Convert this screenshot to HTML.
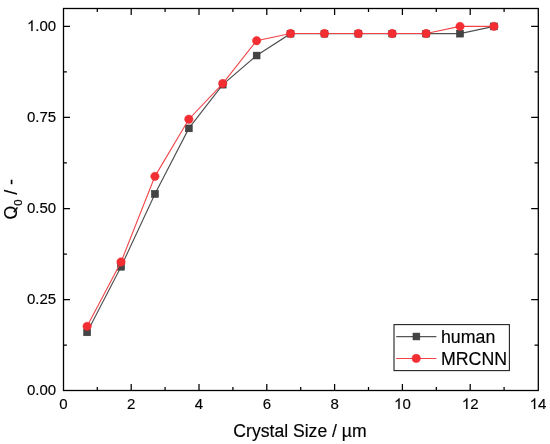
<!DOCTYPE html><html><head><meta charset="utf-8"><style>
html,body{margin:0;padding:0;background:#fff;width:550px;height:444px;overflow:hidden}
svg{display:block;will-change:transform}
text{font-family:"Liberation Sans",sans-serif;fill:#000;stroke:#000;stroke-width:0.15px}
</style></head><body>
<svg width="550" height="444" viewBox="0 0 550 444">
<rect width="550" height="444" fill="#fff"/>
<path d="M97.30 390.5V387.10M97.30 8.5V11.90M131.20 390.5V384.00M131.20 8.5V15.00M165.10 390.5V387.10M165.10 8.5V11.90M199.00 390.5V384.00M199.00 8.5V15.00M232.90 390.5V387.10M232.90 8.5V11.90M266.80 390.5V384.00M266.80 8.5V15.00M300.70 390.5V387.10M300.70 8.5V11.90M334.60 390.5V384.00M334.60 8.5V15.00M368.50 390.5V387.10M368.50 8.5V11.90M402.40 390.5V384.00M402.40 8.5V15.00M436.30 390.5V387.10M436.30 8.5V11.90M470.20 390.5V384.00M470.20 8.5V15.00M504.10 390.5V387.10M504.10 8.5V11.90M63.5 345.08H66.90M538.3 345.08H534.56M63.5 299.55H70.00M538.3 299.55H531.15M63.5 254.03H66.90M538.3 254.03H534.56M63.5 208.50H70.00M538.3 208.50H531.15M63.5 162.98H66.90M538.3 162.98H534.56M63.5 117.45H70.00M538.3 117.45H531.15M63.5 71.93H66.90M538.3 71.93H534.56M63.5 26.40H70.00M538.3 26.40H531.15" stroke="#000" stroke-width="1.25" fill="none"/>
<rect x="63.5" y="8.5" width="474.79999999999995" height="382.0" fill="none" stroke="#000" stroke-width="1.3"/>
<text x="59.23" y="409.00" font-size="15">0</text>
<text x="127.03" y="409.00" font-size="15">2</text>
<text x="194.83" y="409.00" font-size="15">4</text>
<text x="262.63" y="409.00" font-size="15">6</text>
<text x="330.43" y="409.00" font-size="15">8</text>
<path transform="translate(394.06 409.00) scale(0.00732 -0.00732)" d="M763 0L583 0L583 1147Q518 1085 415 1024Q312 963 223 930L223 1104Q371 1174 483 1273Q595 1372 646 1466L763 1466Z" fill="#000" stroke="#000" stroke-width="20.5"/><text x="402.40" y="409.00" font-size="15">0</text>
<path transform="translate(461.86 409.00) scale(0.00732 -0.00732)" d="M763 0L583 0L583 1147Q518 1085 415 1024Q312 963 223 930L223 1104Q371 1174 483 1273Q595 1372 646 1466L763 1466Z" fill="#000" stroke="#000" stroke-width="20.5"/><text x="470.20" y="409.00" font-size="15">2</text>
<path transform="translate(529.66 409.00) scale(0.00732 -0.00732)" d="M763 0L583 0L583 1147Q518 1085 415 1024Q312 963 223 930L223 1104Q371 1174 483 1273Q595 1372 646 1466L763 1466Z" fill="#000" stroke="#000" stroke-width="20.5"/><text x="538.00" y="409.00" font-size="15">4</text>
<text x="27.01" y="395.00" font-size="15">0.00</text>
<text x="27.01" y="304.00" font-size="15">0.25</text>
<text x="27.01" y="213.00" font-size="15">0.50</text>
<text x="27.01" y="122.00" font-size="15">0.75</text>
<path transform="translate(27.01 31.00) scale(0.00732 -0.00732)" d="M763 0L583 0L583 1147Q518 1085 415 1024Q312 963 223 930L223 1104Q371 1174 483 1273Q595 1372 646 1466L763 1466Z" fill="#000" stroke="#000" stroke-width="20.5"/><text x="35.35" y="31.00" font-size="15">.00</text>
<text x="300.0" y="436.8" font-size="17.6" text-anchor="middle">Crystal Size / µm</text>
<g transform="translate(17.2 199.3) rotate(-90)"><text x="-20.25" y="0" font-size="17.6">O<tspan font-size="11.3" dy="4.9">0</tspan><tspan dy="-4.9"> / -</tspan></text><path d="M-13.39 -2.85L-12.51 -4.02L-7.61 -0.33L-8.49 0.84Z" fill="#000"/></g>
<polyline points="87.13,332.33 121.03,266.77 154.93,193.93 188.83,128.38 222.73,84.67 256.63,55.54 290.53,33.68 324.43,33.68 358.33,33.68 392.23,33.68 426.13,33.68 460.03,33.68 493.93,26.40" fill="none" stroke="#505050" stroke-width="1.15"/>
<rect x="83.73" y="328.93" width="6.8" height="6.8" fill="#444444" stroke="#333333" stroke-width="0.6"/>
<rect x="117.63" y="263.37" width="6.8" height="6.8" fill="#444444" stroke="#333333" stroke-width="0.6"/>
<rect x="151.53" y="190.53" width="6.8" height="6.8" fill="#444444" stroke="#333333" stroke-width="0.6"/>
<rect x="185.43" y="124.98" width="6.8" height="6.8" fill="#444444" stroke="#333333" stroke-width="0.6"/>
<rect x="219.33" y="81.27" width="6.8" height="6.8" fill="#444444" stroke="#333333" stroke-width="0.6"/>
<rect x="253.23" y="52.14" width="6.8" height="6.8" fill="#444444" stroke="#333333" stroke-width="0.6"/>
<rect x="287.13" y="30.28" width="6.8" height="6.8" fill="#444444" stroke="#333333" stroke-width="0.6"/>
<rect x="321.03" y="30.28" width="6.8" height="6.8" fill="#444444" stroke="#333333" stroke-width="0.6"/>
<rect x="354.93" y="30.28" width="6.8" height="6.8" fill="#444444" stroke="#333333" stroke-width="0.6"/>
<rect x="388.83" y="30.28" width="6.8" height="6.8" fill="#444444" stroke="#333333" stroke-width="0.6"/>
<rect x="422.73" y="30.28" width="6.8" height="6.8" fill="#444444" stroke="#333333" stroke-width="0.6"/>
<rect x="456.63" y="30.28" width="6.8" height="6.8" fill="#444444" stroke="#333333" stroke-width="0.6"/>
<rect x="490.53" y="23.00" width="6.8" height="6.8" fill="#444444" stroke="#333333" stroke-width="0.6"/>
<polyline points="87.13,326.33 121.03,262.06 154.93,176.36 188.83,119.24 222.73,83.53 256.63,40.68 290.53,33.54 324.43,33.54 358.33,33.54 392.23,33.54 426.13,33.54 460.03,26.40 493.93,26.40" fill="none" stroke="#f04448" stroke-width="1.1"/>
<circle cx="87.13" cy="326.33" r="4.2" fill="#f32e32" stroke="#e8282d" stroke-width="0.5"/>
<circle cx="121.03" cy="262.06" r="4.2" fill="#f32e32" stroke="#e8282d" stroke-width="0.5"/>
<circle cx="154.93" cy="176.36" r="4.2" fill="#f32e32" stroke="#e8282d" stroke-width="0.5"/>
<circle cx="188.83" cy="119.24" r="4.2" fill="#f32e32" stroke="#e8282d" stroke-width="0.5"/>
<circle cx="222.73" cy="83.53" r="4.2" fill="#f32e32" stroke="#e8282d" stroke-width="0.5"/>
<circle cx="256.63" cy="40.68" r="4.2" fill="#f32e32" stroke="#e8282d" stroke-width="0.5"/>
<circle cx="290.53" cy="33.54" r="4.2" fill="#f32e32" stroke="#e8282d" stroke-width="0.5"/>
<circle cx="324.43" cy="33.54" r="4.2" fill="#f32e32" stroke="#e8282d" stroke-width="0.5"/>
<circle cx="358.33" cy="33.54" r="4.2" fill="#f32e32" stroke="#e8282d" stroke-width="0.5"/>
<circle cx="392.23" cy="33.54" r="4.2" fill="#f32e32" stroke="#e8282d" stroke-width="0.5"/>
<circle cx="426.13" cy="33.54" r="4.2" fill="#f32e32" stroke="#e8282d" stroke-width="0.5"/>
<circle cx="460.03" cy="26.40" r="4.2" fill="#f32e32" stroke="#e8282d" stroke-width="0.5"/>
<circle cx="493.93" cy="26.40" r="4.2" fill="#f32e32" stroke="#e8282d" stroke-width="0.5"/>
<rect x="394.0" y="324.6" width="115.4" height="46" fill="#fff" stroke="#222" stroke-width="1.1"/>
<path d="M396.2 336.7H436.4" stroke="#555" stroke-width="1.2"/>
<rect x="413.0" y="333.1" width="6.8" height="6.8" fill="#444444" stroke="#333333" stroke-width="0.6"/>
<path d="M396.2 358.5H436.4" stroke="#f04448" stroke-width="1.2"/>
<circle cx="416.2" cy="358.4" r="4.1" fill="#f32e32" stroke="#e8282d" stroke-width="0.5"/>
<text x="441.0" y="342.7" font-size="17.75">human</text>
<text x="441.0" y="364.5" font-size="17.75">MRCNN</text>
</svg></body></html>
